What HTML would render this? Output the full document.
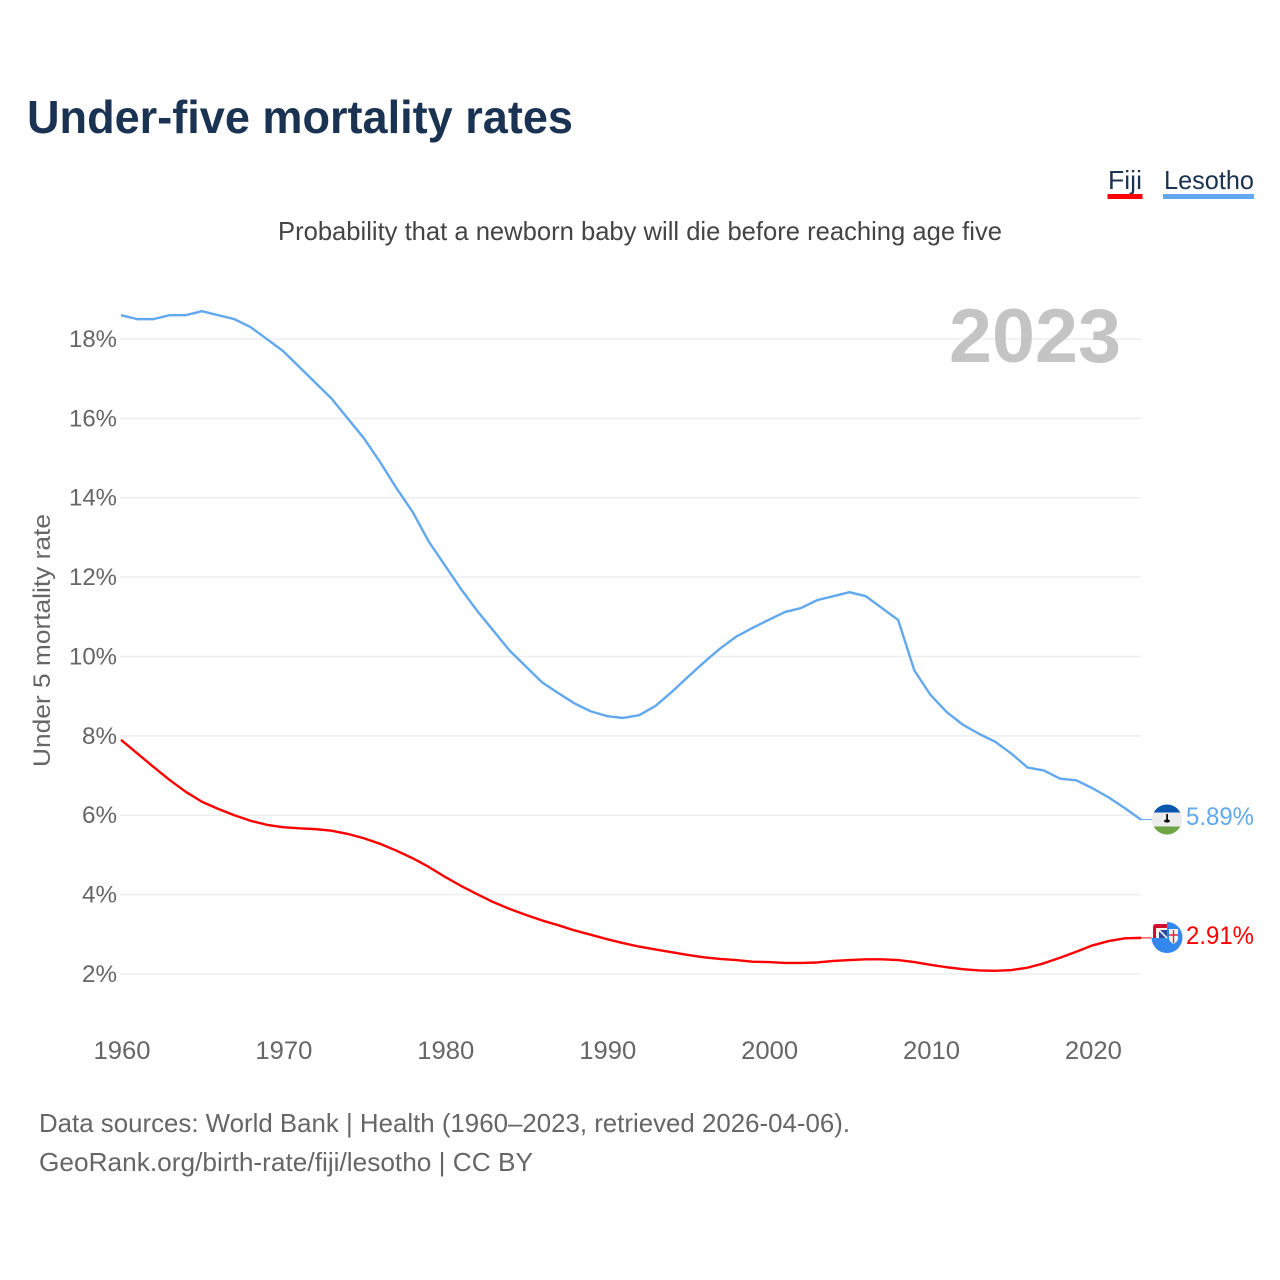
<!DOCTYPE html>
<html lang="en">
<head>
<meta charset="utf-8">
<title>Under-five mortality rates</title>
<style>
html,body{margin:0;padding:0;background:#fff;}
svg{display:block;font-family:"Liberation Sans",sans-serif;}
</style>
</head>
<body>
<svg id="chart" width="1280" height="1280" viewBox="0 0 1280 1280" xmlns="http://www.w3.org/2000/svg">
  <defs>
    <clipPath id="clip-lesotho"><circle cx="1167" cy="819.5" r="15"></circle></clipPath>
    <clipPath id="clip-fiji"><circle cx="1167" cy="937.5" r="15.5"></circle></clipPath>
  </defs>
  <rect width="1280" height="1280" fill="#ffffff"></rect>

  <text x="27" y="133" font-size="46" font-weight="700" fill="#1b3353" textLength="546" lengthAdjust="spacingAndGlyphs">Under-five mortality rates</text>
  <text x="278" y="240" font-size="26" fill="#444444" textLength="724" lengthAdjust="spacingAndGlyphs">Probability that a newborn baby will die before reaching age five</text>

  <g>
    <text x="1108" y="189" font-size="26" fill="#1b3353" textLength="34" lengthAdjust="spacingAndGlyphs">Fiji</text>
    <rect x="1107.5" y="194" width="35" height="5" fill="#ff0000"></rect>
  </g>
  <g>
    <text x="1164" y="189" font-size="26" fill="#1b3353" textLength="90" lengthAdjust="spacingAndGlyphs">Lesotho</text>
    <rect x="1163" y="194" width="91" height="5" fill="#62a8ee"></rect>
  </g>

  <g id="grid"></g>
  <g id="y-ticks"></g>
  <g id="x-ticks"></g>

  <text transform="translate(50 767) rotate(-90)" font-size="24" fill="#666666" textLength="253" lengthAdjust="spacingAndGlyphs">Under 5 mortality rate</text>
  <text x="949" y="362" font-size="76" font-weight="700" fill="#c4c4c4" textLength="172" lengthAdjust="spacingAndGlyphs">2023</text>

  <g id="series"></g>

  <g clip-path="url(#clip-lesotho)">
    <rect x="1150" y="803" width="34" height="34" fill="#ececec"></rect>
    <rect x="1150" y="803" width="34" height="9.5" fill="#0a55ad"></rect>
    <rect x="1150" y="826.5" width="34" height="10" fill="#6ea544"></rect>
    <rect x="1166.2" y="814" width="1.8" height="6" fill="#111"></rect>
    <ellipse cx="1167" cy="821" rx="3" ry="1.6" fill="#111"></ellipse>
  </g>
  <g>
    <g clip-path="url(#clip-fiji)">
      <rect x="1150" y="920" width="36" height="36" fill="#3388ee"></rect>
      <rect x="1150" y="920" width="17" height="18" fill="#ffffff"></rect>
    </g>
    <path d="M1153 938V927Q1153 924 1156 924H1167V938Z" fill="#d0102c"></path>
    <rect x="1156" y="928" width="11" height="10" fill="#f4f4f4"></rect>
    <rect x="1159" y="930" width="8" height="8" fill="#2a4a9a"></rect>
    <path d="M1158 929L1167 938" stroke="#f4f4f4" stroke-width="1.6" fill="none"></path>
    <path d="M1169 929H1178V938Q1178 941.5 1173.5 944Q1169 941.5 1169 938Z" fill="#f6f6f6"></path>
    <path d="M1173.5 930V943M1169 935H1178" stroke="#e0283c" stroke-width="1.4" fill="none"></path>
  </g>

  <text x="1186" y="825" font-size="25" fill="#62a8ee" textLength="68" lengthAdjust="spacingAndGlyphs">5.89%</text>
  <text x="1186" y="944" font-size="25" fill="#ff0000" textLength="68" lengthAdjust="spacingAndGlyphs">2.91%</text>

  <text x="39" y="1132" font-size="26" fill="#666666" textLength="811" lengthAdjust="spacingAndGlyphs">Data sources: World Bank | Health (1960–2023, retrieved 2026-04-06).</text>
  <text x="39" y="1171" font-size="26" fill="#666666" textLength="494" lengthAdjust="spacingAndGlyphs">GeoRank.org/birth-rate/fiji/lesotho | CC BY</text>
</svg>

<script>
const startYear = 1960;
const yTickValues = [2, 4, 6, 8, 10, 12, 14, 16, 18];
const xTickYears = [1960, 1970, 1980, 1990, 2000, 2010, 2020];
const lesothoValues = [
  18.6, 18.5, 18.5, 18.6, 18.6, 18.7, 18.6, 18.5, 18.3, 18.0,
  17.7, 17.3, 16.9, 16.5, 16.0, 15.5, 14.9, 14.25, 13.65, 12.9,
  12.3, 11.7, 11.15, 10.65, 10.15, 9.75, 9.35, 9.08, 8.82, 8.62,
  8.5, 8.45, 8.52, 8.75, 9.1, 9.48, 9.85, 10.2, 10.5, 10.72,
  10.92, 11.12, 11.22, 11.42, 11.52, 11.62, 11.52, 11.22, 10.92, 9.65,
  9.03, 8.6, 8.28, 8.05, 7.85, 7.55, 7.2, 7.13, 6.92, 6.88,
  6.68, 6.45, 6.18, 5.89
];
const fijiValues = [
  7.9, 7.56, 7.22, 6.89, 6.59, 6.34, 6.16, 6.0, 5.86, 5.76,
  5.7, 5.67, 5.65, 5.61, 5.53, 5.42, 5.28, 5.11, 4.92, 4.7,
  4.45, 4.22, 4.01, 3.81, 3.64, 3.49, 3.35, 3.23, 3.1, 2.99,
  2.88, 2.78, 2.69, 2.62, 2.55, 2.48, 2.42, 2.38, 2.35, 2.31,
  2.3, 2.28, 2.28, 2.29, 2.33, 2.35, 2.37, 2.37, 2.35, 2.3,
  2.23, 2.17, 2.12, 2.09, 2.08, 2.1, 2.16, 2.27, 2.41, 2.56,
  2.72, 2.83, 2.9, 2.91
];

const SVG_NS = 'http://www.w3.org/2000/svg';
const PLOT_LEFT = 121, PLOT_RIGHT = 1141, YEAR_SPAN = 63;
const Y_AT_2 = 974, PX_PER_UNIT = 39.69, MARKER_X = 1153;

function xScale(year) {
  return PLOT_LEFT + (year - startYear) * (PLOT_RIGHT - PLOT_LEFT) / YEAR_SPAN;
}
function yScale(value) {
  return Y_AT_2 - (value - 2) * PX_PER_UNIT;
}
function make(tag, attrs, text) {
  const el = document.createElementNS(SVG_NS, tag);
  for (const key in attrs) el.setAttribute(key, attrs[key]);
  if (text !== undefined) el.textContent = text;
  return el;
}

const gridGroup = document.getElementById('grid');
const yTickGroup = document.getElementById('y-ticks');
const xTickGroup = document.getElementById('x-ticks');
const seriesGroup = document.getElementById('series');

yTickValues.forEach(function (v) {
  const line = make('line', {x1: 120, x2: PLOT_RIGHT, y1: yScale(v), y2: yScale(v), stroke: '#eeeeee', 'stroke-width': 1.5});
  
  
  gridGroup.appendChild(line);
  const label = make('text', {x: 117, y: yScale(v) + 8, 'font-size': 24, fill: '#666666', 'text-anchor': 'end', textLength: v >= 10 ? 48 : 35, lengthAdjust: 'spacingAndGlyphs'}, v + '%');
  
  
  yTickGroup.appendChild(label);
});

xTickYears.forEach(function (yr) {
  const label = make('text', {x: xScale(yr) + 1, y: 1059, 'font-size': 25, fill: '#666666', 'text-anchor': 'middle', textLength: 57, lengthAdjust: 'spacingAndGlyphs'}, String(yr));
  
  
  xTickGroup.appendChild(label);
});

function pointsFor(values) {
  return values.map(function (v, i) {
    return xScale(startYear + i).toFixed(2) + ',' + yScale(v).toFixed(2);
  }).join(' ');
}

const lesothoLine = make('polyline', {points: pointsFor(lesothoValues), fill: 'none', stroke: '#62a8ee', 'stroke-width': 2.4, 'stroke-linejoin': 'round'});


seriesGroup.appendChild(lesothoLine);

const fijiLine = make('polyline', {points: pointsFor(fijiValues), fill: 'none', stroke: '#ff0000', 'stroke-width': 2.4, 'stroke-linejoin': 'round'});


seriesGroup.appendChild(fijiLine);

const lesothoEnd = yScale(lesothoValues[lesothoValues.length - 1]);
const lesothoLead = make('line', {x1: PLOT_RIGHT, x2: MARKER_X, y1: lesothoEnd, y2: lesothoEnd, stroke: '#62a8ee', 'stroke-width': 1});


seriesGroup.appendChild(lesothoLead);

const fijiEnd = yScale(fijiValues[fijiValues.length - 1]);
const fijiLead = make('line', {x1: PLOT_RIGHT, x2: MARKER_X, y1: fijiEnd, y2: fijiEnd, stroke: '#ff0000', 'stroke-width': 1});


seriesGroup.appendChild(fijiLead);
</script>
</body>
</html>
